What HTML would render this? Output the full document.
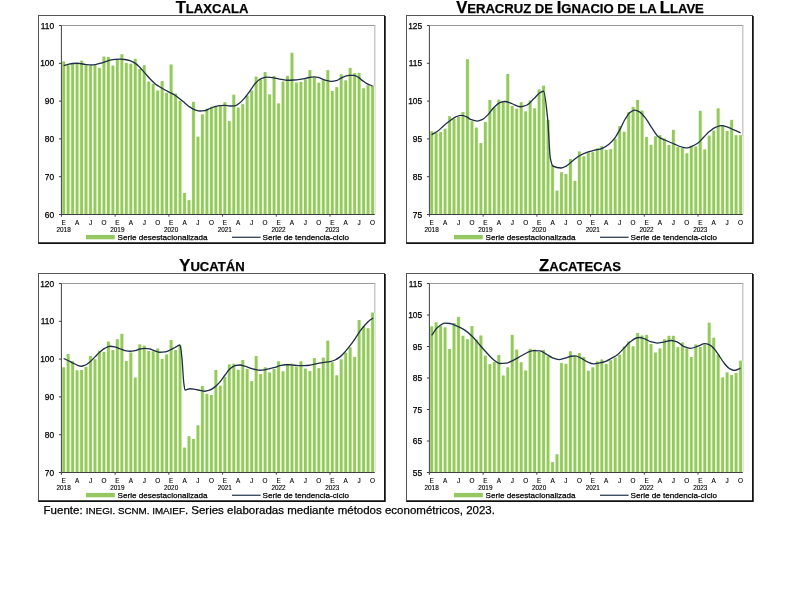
<!DOCTYPE html>
<html><head><meta charset="utf-8"><title>Indicador</title>
<style>
html,body{margin:0;padding:0;background:#fff;}
body{width:800px;height:600px;overflow:hidden;}
svg{display:block;will-change:transform;}
text{font-family:"Liberation Sans", Arial, sans-serif;fill:#000;stroke:#000;stroke-width:0.25px;}
.t{fill:#000;}
.yl text{font-size:8.4px;}
.xl text{font-size:6.4px;stroke-width:0.12px;}
.lg{font-size:8.1px;}
.fu{font-size:11.5px;}
</style></head><body>
<svg width="800" height="600" viewBox="0 0 800 600">
<rect width="800" height="600" fill="#fff"/>
<text x="212" y="12.8" text-anchor="middle" font-weight="bold" class="t"><tspan font-size="16.6">T</tspan><tspan font-size="13.1">LAXCALA</tspan></text>
<rect x="38.5" y="15.5" width="346" height="228" fill="#fff" stroke="#555" stroke-width="1"/>
<path d="M384.9,16 V243.05 H38.5" fill="none" stroke="#111" stroke-width="1.7"/>
<path d="M61.4,25.5 H375.4" fill="none" stroke="#9a9a9a" stroke-width="1"/>
<path d="M374.8,25.5 V214.5" fill="none" stroke="#c4c4c4" stroke-width="1.3"/>
<g fill="#ECFCD6"><rect x="61.4" y="61.91" width="4.48" height="152.59"/><rect x="65.88" y="65.69" width="4.48" height="148.81"/><rect x="70.35" y="63.8" width="4.48" height="150.7"/><rect x="74.83" y="63.8" width="4.48" height="150.7"/><rect x="79.31" y="61.15" width="4.48" height="153.35"/><rect x="83.79" y="65.69" width="4.48" height="148.81"/><rect x="88.26" y="66.45" width="4.48" height="148.05"/><rect x="92.74" y="65.69" width="4.48" height="148.81"/><rect x="97.22" y="68.34" width="4.48" height="146.16"/><rect x="101.69" y="57" width="4.48" height="157.5"/><rect x="106.17" y="57.37" width="4.48" height="157.13"/><rect x="110.65" y="66.07" width="4.48" height="148.43"/><rect x="115.13" y="59.64" width="4.48" height="154.86"/><rect x="119.6" y="54.73" width="4.48" height="159.77"/><rect x="124.08" y="63.42" width="4.48" height="151.08"/><rect x="128.56" y="64.18" width="4.48" height="150.32"/><rect x="133.03" y="59.26" width="4.48" height="155.24"/><rect x="137.51" y="69.47" width="4.48" height="145.03"/><rect x="141.99" y="65.69" width="4.48" height="148.81"/><rect x="146.47" y="81.94" width="4.48" height="132.56"/><rect x="150.94" y="84.21" width="4.48" height="130.29"/><rect x="155.42" y="91.02" width="4.48" height="123.48"/><rect x="159.9" y="81.57" width="4.48" height="132.93"/><rect x="164.37" y="93.28" width="4.48" height="121.22"/><rect x="168.85" y="64.93" width="4.48" height="149.57"/><rect x="173.33" y="94.04" width="4.48" height="120.46"/><rect x="177.81" y="101.22" width="4.48" height="113.28"/><rect x="182.28" y="193.45" width="4.48" height="21.05"/><rect x="186.76" y="200.64" width="4.48" height="13.86"/><rect x="191.24" y="102.36" width="4.48" height="112.14"/><rect x="195.71" y="137.13" width="4.48" height="77.37"/><rect x="200.19" y="114.83" width="4.48" height="99.67"/><rect x="204.67" y="109.16" width="4.48" height="105.34"/><rect x="209.15" y="107.27" width="4.48" height="107.23"/><rect x="213.62" y="107.27" width="4.48" height="107.23"/><rect x="218.1" y="106.51" width="4.48" height="107.99"/><rect x="222.58" y="102.73" width="4.48" height="111.77"/><rect x="227.05" y="121.63" width="4.48" height="92.87"/><rect x="231.53" y="95.17" width="4.48" height="119.33"/><rect x="236.01" y="108.03" width="4.48" height="106.47"/><rect x="240.49" y="104.62" width="4.48" height="109.88"/><rect x="244.96" y="95.93" width="4.48" height="118.57"/><rect x="249.44" y="91.02" width="4.48" height="123.48"/><rect x="253.92" y="77.03" width="4.48" height="137.47"/><rect x="258.39" y="80.05" width="4.48" height="134.45"/><rect x="262.87" y="72.49" width="4.48" height="142.01"/><rect x="267.35" y="94.8" width="4.48" height="119.7"/><rect x="271.83" y="76.27" width="4.48" height="138.23"/><rect x="276.3" y="103.87" width="4.48" height="110.63"/><rect x="280.78" y="81.94" width="4.48" height="132.56"/><rect x="285.26" y="76.27" width="4.48" height="138.23"/><rect x="289.73" y="53.22" width="4.48" height="161.28"/><rect x="294.21" y="83.08" width="4.48" height="131.42"/><rect x="298.69" y="82.32" width="4.48" height="132.18"/><rect x="303.17" y="79.68" width="4.48" height="134.82"/><rect x="307.64" y="70.6" width="4.48" height="143.9"/><rect x="312.12" y="77.79" width="4.48" height="136.71"/><rect x="316.6" y="83.08" width="4.48" height="131.42"/><rect x="321.07" y="80.05" width="4.48" height="134.45"/><rect x="325.55" y="70.6" width="4.48" height="143.9"/><rect x="330.03" y="91.39" width="4.48" height="123.11"/><rect x="334.51" y="87.61" width="4.48" height="126.89"/><rect x="338.98" y="74.76" width="4.48" height="139.74"/><rect x="343.46" y="80.81" width="4.48" height="133.69"/><rect x="347.94" y="68.34" width="4.48" height="146.16"/><rect x="352.41" y="73.63" width="4.48" height="140.87"/><rect x="356.89" y="73.44" width="4.48" height="141.06"/><rect x="361.37" y="88.75" width="4.48" height="125.75"/><rect x="365.85" y="85.72" width="4.48" height="128.78"/><rect x="370.32" y="86.1" width="4.48" height="128.4"/></g>
<g fill="#95C862"><rect x="62.24" y="61.41" width="2.8" height="153.09"/><rect x="66.72" y="65.19" width="2.8" height="149.31"/><rect x="71.19" y="63.3" width="2.8" height="151.2"/><rect x="75.67" y="63.3" width="2.8" height="151.2"/><rect x="80.15" y="60.65" width="2.8" height="153.85"/><rect x="84.62" y="65.19" width="2.8" height="149.31"/><rect x="89.1" y="65.95" width="2.8" height="148.55"/><rect x="93.58" y="65.19" width="2.8" height="149.31"/><rect x="98.06" y="67.84" width="2.8" height="146.66"/><rect x="102.53" y="56.5" width="2.8" height="158"/><rect x="107.01" y="56.87" width="2.8" height="157.63"/><rect x="111.49" y="65.57" width="2.8" height="148.93"/><rect x="115.96" y="59.14" width="2.8" height="155.36"/><rect x="120.44" y="54.23" width="2.8" height="160.27"/><rect x="124.92" y="62.92" width="2.8" height="151.58"/><rect x="129.4" y="63.68" width="2.8" height="150.82"/><rect x="133.87" y="58.76" width="2.8" height="155.74"/><rect x="138.35" y="68.97" width="2.8" height="145.53"/><rect x="142.83" y="65.19" width="2.8" height="149.31"/><rect x="147.3" y="81.44" width="2.8" height="133.06"/><rect x="151.78" y="83.71" width="2.8" height="130.79"/><rect x="156.26" y="90.52" width="2.8" height="123.98"/><rect x="160.74" y="81.07" width="2.8" height="133.43"/><rect x="165.21" y="92.78" width="2.8" height="121.72"/><rect x="169.69" y="64.43" width="2.8" height="150.07"/><rect x="174.17" y="93.54" width="2.8" height="120.96"/><rect x="178.64" y="100.72" width="2.8" height="113.78"/><rect x="183.12" y="192.95" width="2.8" height="21.55"/><rect x="187.6" y="200.14" width="2.8" height="14.36"/><rect x="192.08" y="101.86" width="2.8" height="112.64"/><rect x="196.55" y="136.63" width="2.8" height="77.87"/><rect x="201.03" y="114.33" width="2.8" height="100.17"/><rect x="205.51" y="108.66" width="2.8" height="105.84"/><rect x="209.98" y="106.77" width="2.8" height="107.73"/><rect x="214.46" y="106.77" width="2.8" height="107.73"/><rect x="218.94" y="106.01" width="2.8" height="108.49"/><rect x="223.42" y="102.23" width="2.8" height="112.27"/><rect x="227.89" y="121.13" width="2.8" height="93.37"/><rect x="232.37" y="94.67" width="2.8" height="119.83"/><rect x="236.85" y="107.53" width="2.8" height="106.97"/><rect x="241.32" y="104.12" width="2.8" height="110.38"/><rect x="245.8" y="95.43" width="2.8" height="119.07"/><rect x="250.28" y="90.52" width="2.8" height="123.98"/><rect x="254.76" y="76.53" width="2.8" height="137.97"/><rect x="259.23" y="79.55" width="2.8" height="134.95"/><rect x="263.71" y="71.99" width="2.8" height="142.51"/><rect x="268.19" y="94.3" width="2.8" height="120.2"/><rect x="272.66" y="75.77" width="2.8" height="138.73"/><rect x="277.14" y="103.37" width="2.8" height="111.13"/><rect x="281.62" y="81.44" width="2.8" height="133.06"/><rect x="286.1" y="75.77" width="2.8" height="138.73"/><rect x="290.57" y="52.72" width="2.8" height="161.78"/><rect x="295.05" y="82.58" width="2.8" height="131.92"/><rect x="299.53" y="81.82" width="2.8" height="132.68"/><rect x="304" y="79.18" width="2.8" height="135.32"/><rect x="308.48" y="70.1" width="2.8" height="144.4"/><rect x="312.96" y="77.29" width="2.8" height="137.21"/><rect x="317.44" y="82.58" width="2.8" height="131.92"/><rect x="321.91" y="79.55" width="2.8" height="134.95"/><rect x="326.39" y="70.1" width="2.8" height="144.4"/><rect x="330.87" y="90.89" width="2.8" height="123.61"/><rect x="335.34" y="87.11" width="2.8" height="127.39"/><rect x="339.82" y="74.26" width="2.8" height="140.24"/><rect x="344.3" y="80.31" width="2.8" height="134.19"/><rect x="348.78" y="67.84" width="2.8" height="146.66"/><rect x="353.25" y="73.13" width="2.8" height="141.37"/><rect x="357.73" y="72.94" width="2.8" height="141.56"/><rect x="362.21" y="88.25" width="2.8" height="126.25"/><rect x="366.68" y="85.22" width="2.8" height="129.28"/><rect x="371.16" y="85.6" width="2.8" height="128.9"/></g>
<path d="M61.4,25.5 V214.5 H374.8" fill="none" stroke="#404040" stroke-width="1"/>
<path d="M58.9,214.5H61.4M58.9,176.7H61.4M58.9,138.9H61.4M58.9,101.1H61.4M58.9,63.3H61.4M58.9,25.5H61.4M61.4,214.5V216.7M115.13,214.5V216.7M168.85,214.5V216.7M222.58,214.5V216.7M276.3,214.5V216.7M330.03,214.5V216.7" stroke="#404040" stroke-width="1" fill="none"/>
<g class="yl"><text x="54.2" y="217.5" text-anchor="end">60</text><text x="54.2" y="179.7" text-anchor="end">70</text><text x="54.2" y="141.9" text-anchor="end">80</text><text x="54.2" y="104.1" text-anchor="end">90</text><text x="54.2" y="66.3" text-anchor="end">100</text><text x="54.2" y="28.5" text-anchor="end">110</text></g>
<g class="xl" text-anchor="middle"><text x="63.64" y="225.2">E</text><text x="77.07" y="225.2">A</text><text x="90.5" y="225.2">J</text><text x="103.93" y="225.2">O</text><text x="117.36" y="225.2">E</text><text x="130.8" y="225.2">A</text><text x="144.23" y="225.2">J</text><text x="157.66" y="225.2">O</text><text x="171.09" y="225.2">E</text><text x="184.52" y="225.2">A</text><text x="197.95" y="225.2">J</text><text x="211.38" y="225.2">O</text><text x="224.82" y="225.2">E</text><text x="238.25" y="225.2">A</text><text x="251.68" y="225.2">J</text><text x="265.11" y="225.2">O</text><text x="278.54" y="225.2">E</text><text x="291.97" y="225.2">A</text><text x="305.4" y="225.2">J</text><text x="318.84" y="225.2">O</text><text x="332.27" y="225.2">E</text><text x="345.7" y="225.2">A</text><text x="359.13" y="225.2">J</text><text x="372.56" y="225.2">O</text><text x="63.64" y="231.9">2018</text><text x="117.36" y="231.9">2019</text><text x="171.09" y="231.9">2020</text><text x="224.82" y="231.9">2021</text><text x="278.54" y="231.9">2022</text><text x="332.27" y="231.9">2023</text></g>
<path d="M63.64,65.57 C64.92,65.25 66.21,64.93 67.49,64.62 C69.16,64.23 70.83,63.61 72.5,63.49 C74.17,63.36 75.85,63.26 77.52,63.26 C78.76,63.26 80,63.57 81.23,63.75 C82.49,63.94 83.74,64.2 84.99,64.36 C87.08,64.62 89.17,65 91.26,65 C92.92,65 94.58,64.64 96.23,64.36 C97.49,64.15 98.74,63.82 99.99,63.49 C101.66,63.04 103.34,62.41 105.01,61.86 C106.68,61.32 108.35,60.62 110.02,60.24 C111.68,59.86 113.33,59.49 114.99,59.37 C116.66,59.25 118.33,59.14 120.01,59.14 C121.68,59.14 123.35,59.31 125.02,59.48 C126.68,59.66 128.33,60.1 129.99,60.62 C131.66,61.14 133.33,62.05 135,63.11 C136.68,64.17 138.35,65.85 140.02,67.5 C141.68,69.13 143.33,71.26 144.99,73.13 C146.66,75.01 148.33,77.02 150,78.76 C151.67,80.5 153.35,82.29 155.02,83.64 C156.67,84.97 158.33,85.99 159.99,87.04 C161.66,88.1 163.33,89.09 165,89.99 C166.67,90.89 168.34,91.6 170.02,92.48 C171.67,93.35 173.33,94.19 174.99,95.24 C176.66,96.31 178.33,97.67 180,98.98 C181.67,100.3 183.34,101.78 185.01,103.14 C186.67,104.49 188.33,106.06 189.98,107.11 C191.66,108.17 193.33,109.19 195,109.76 C196.67,110.32 198.34,111 200.01,111 C201.67,111 203.33,110.84 204.98,110.63 C206.65,110.41 208.32,109.17 210,108.51 C211.67,107.84 213.34,107.05 215.01,106.62 C216.67,106.19 218.32,105.77 219.98,105.64 C221.65,105.5 223.32,105.37 224.99,105.37 C226.67,105.37 228.34,106.01 230.01,106.01 C231.67,106.01 233.32,105.96 234.98,105.86 C236.65,105.77 238.32,104.06 239.99,102.76 C241.66,101.46 243.34,99.46 245.01,97.51 C246.68,95.56 248.35,93.2 250.02,90.89 C251.68,88.61 253.34,85.63 254.99,83.71 C256.28,82.22 257.56,80.77 258.84,79.93 C260.07,79.13 261.29,78.54 262.51,78.12 C263.75,77.69 264.99,77.13 266.23,77.13 C267.65,77.13 269.06,77.2 270.48,77.29 C271.99,77.38 273.5,77.83 275,78.12 C277.08,78.51 279.15,79.02 281.23,79.37 C283.32,79.71 285.41,80.23 287.5,80.23 C289.59,80.23 291.67,80.12 293.76,80.01 C295.84,79.9 297.91,79.65 299.99,79.37 C302.08,79.08 304.17,78.54 306.25,78.12 C307.91,77.78 309.57,77.29 311.22,77.1 C312.27,76.98 313.31,76.83 314.36,76.83 C315.82,76.83 317.28,77.21 318.75,77.55 C320.21,77.89 321.67,78.81 323.13,79.33 C324.6,79.84 326.06,80.38 327.52,80.69 C328.97,80.99 330.42,81.37 331.86,81.37 C333.33,81.37 334.79,80.99 336.25,80.61 C337.71,80.24 339.18,79.15 340.64,78.42 C342.09,77.7 343.53,76.69 344.98,76.27 C346.44,75.84 347.91,75.36 349.37,75.36 C350.83,75.36 352.29,75.36 353.76,75.36 C355.22,75.36 356.68,76.35 358.15,77.13 C359.59,77.91 361.04,79.53 362.49,80.61 C363.95,81.7 365.41,82.92 366.88,83.67 C368.77,84.66 370.67,85.21 372.56,85.98" fill="none" stroke="#1E2E48" stroke-width="1.3" stroke-linejoin="round"/>
<rect x="86" y="234.9" width="28.8" height="4.4" fill="#95C862"/>
<text x="117.6" y="239.6" class="lg">Serie desestacionalizada</text>
<path d="M232,237.3H260.6" stroke="#3F4D60" stroke-width="1.4"/>
<text x="262.6" y="239.6" class="lg">Serie de tendencia-ciclo</text>
<text x="580" y="12.8" text-anchor="middle" font-weight="bold" class="t"><tspan font-size="16.6">V</tspan><tspan font-size="13.1">ERACRUZ DE </tspan><tspan font-size="16.6">I</tspan><tspan font-size="13.1">GNACIO DE LA </tspan><tspan font-size="16.6">L</tspan><tspan font-size="13.1">LAVE</tspan></text>
<rect x="406.5" y="15.5" width="346" height="228" fill="#fff" stroke="#555" stroke-width="1"/>
<path d="M752.9,16 V243.05 H406.5" fill="none" stroke="#111" stroke-width="1.7"/>
<path d="M429.4,25.5 H743.4" fill="none" stroke="#9a9a9a" stroke-width="1"/>
<path d="M742.8,25.5 V214.5" fill="none" stroke="#c4c4c4" stroke-width="1.3"/>
<g fill="#ECFCD6"><rect x="429.4" y="131.84" width="4.48" height="82.66"/><rect x="433.88" y="132.97" width="4.48" height="81.53"/><rect x="438.35" y="132.41" width="4.48" height="82.09"/><rect x="442.83" y="129.19" width="4.48" height="85.31"/><rect x="447.31" y="116.72" width="4.48" height="97.78"/><rect x="451.79" y="119.37" width="4.48" height="95.13"/><rect x="456.26" y="117.48" width="4.48" height="97.02"/><rect x="460.74" y="112.56" width="4.48" height="101.94"/><rect x="465.22" y="59.64" width="4.48" height="154.86"/><rect x="469.69" y="121.63" width="4.48" height="92.87"/><rect x="474.17" y="128.06" width="4.48" height="86.44"/><rect x="478.65" y="143.56" width="4.48" height="70.94"/><rect x="483.13" y="122.39" width="4.48" height="92.11"/><rect x="487.6" y="100.47" width="4.48" height="114.03"/><rect x="492.08" y="108.03" width="4.48" height="106.47"/><rect x="496.56" y="100.09" width="4.48" height="114.41"/><rect x="501.03" y="102.73" width="4.48" height="111.77"/><rect x="505.51" y="74.38" width="4.48" height="140.12"/><rect x="509.99" y="106.51" width="4.48" height="107.99"/><rect x="514.47" y="109.16" width="4.48" height="105.34"/><rect x="518.94" y="102.73" width="4.48" height="111.77"/><rect x="523.42" y="111.81" width="4.48" height="102.69"/><rect x="527.9" y="100.84" width="4.48" height="113.66"/><rect x="532.37" y="108.78" width="4.48" height="105.72"/><rect x="536.85" y="89.88" width="4.48" height="124.62"/><rect x="541.33" y="86.1" width="4.48" height="128.4"/><rect x="545.81" y="120.5" width="4.48" height="94"/><rect x="550.28" y="165.48" width="4.48" height="49.02"/><rect x="554.76" y="191.19" width="4.48" height="23.31"/><rect x="559.24" y="172.66" width="4.48" height="41.84"/><rect x="563.71" y="174.55" width="4.48" height="39.95"/><rect x="568.19" y="159.43" width="4.48" height="55.07"/><rect x="572.67" y="181.36" width="4.48" height="33.14"/><rect x="577.15" y="151.87" width="4.48" height="62.63"/><rect x="581.62" y="156.79" width="4.48" height="57.71"/><rect x="586.1" y="153.01" width="4.48" height="61.49"/><rect x="590.58" y="152.63" width="4.48" height="61.87"/><rect x="595.05" y="148.85" width="4.48" height="65.65"/><rect x="599.53" y="146.58" width="4.48" height="67.92"/><rect x="604.01" y="150.36" width="4.48" height="64.14"/><rect x="608.49" y="149.61" width="4.48" height="64.89"/><rect x="612.96" y="139.21" width="4.48" height="75.29"/><rect x="617.44" y="126.55" width="4.48" height="87.95"/><rect x="621.92" y="132.22" width="4.48" height="82.28"/><rect x="626.39" y="112.56" width="4.48" height="101.94"/><rect x="630.87" y="107.27" width="4.48" height="107.23"/><rect x="635.35" y="100.47" width="4.48" height="114.03"/><rect x="639.83" y="111.05" width="4.48" height="103.45"/><rect x="644.3" y="137.51" width="4.48" height="76.99"/><rect x="648.78" y="145.26" width="4.48" height="69.24"/><rect x="653.26" y="136.75" width="4.48" height="77.75"/><rect x="657.73" y="135.62" width="4.48" height="78.88"/><rect x="662.21" y="139.02" width="4.48" height="75.48"/><rect x="666.69" y="145.45" width="4.48" height="69.05"/><rect x="671.17" y="130.33" width="4.48" height="84.17"/><rect x="675.64" y="147.34" width="4.48" height="67.16"/><rect x="680.12" y="148.47" width="4.48" height="66.03"/><rect x="684.6" y="153.76" width="4.48" height="60.74"/><rect x="689.07" y="146.2" width="4.48" height="68.3"/><rect x="693.55" y="146.96" width="4.48" height="67.54"/><rect x="698.03" y="111.24" width="4.48" height="103.26"/><rect x="702.51" y="149.8" width="4.48" height="64.7"/><rect x="706.98" y="136" width="4.48" height="78.5"/><rect x="711.46" y="131.08" width="4.48" height="83.42"/><rect x="715.94" y="108.78" width="4.48" height="105.72"/><rect x="720.41" y="126.17" width="4.48" height="88.33"/><rect x="724.89" y="131.46" width="4.48" height="83.04"/><rect x="729.37" y="120.31" width="4.48" height="94.19"/><rect x="733.85" y="135.62" width="4.48" height="78.88"/><rect x="738.32" y="135.62" width="4.48" height="78.88"/></g>
<g fill="#95C862"><rect x="430.24" y="131.34" width="2.8" height="83.16"/><rect x="434.72" y="132.47" width="2.8" height="82.03"/><rect x="439.19" y="131.91" width="2.8" height="82.59"/><rect x="443.67" y="128.69" width="2.8" height="85.81"/><rect x="448.15" y="116.22" width="2.8" height="98.28"/><rect x="452.62" y="118.87" width="2.8" height="95.63"/><rect x="457.1" y="116.98" width="2.8" height="97.52"/><rect x="461.58" y="112.06" width="2.8" height="102.44"/><rect x="466.06" y="59.14" width="2.8" height="155.36"/><rect x="470.53" y="121.13" width="2.8" height="93.37"/><rect x="475.01" y="127.56" width="2.8" height="86.94"/><rect x="479.49" y="143.06" width="2.8" height="71.44"/><rect x="483.96" y="121.89" width="2.8" height="92.61"/><rect x="488.44" y="99.97" width="2.8" height="114.53"/><rect x="492.92" y="107.53" width="2.8" height="106.97"/><rect x="497.4" y="99.59" width="2.8" height="114.91"/><rect x="501.87" y="102.23" width="2.8" height="112.27"/><rect x="506.35" y="73.88" width="2.8" height="140.62"/><rect x="510.83" y="106.01" width="2.8" height="108.49"/><rect x="515.3" y="108.66" width="2.8" height="105.84"/><rect x="519.78" y="102.23" width="2.8" height="112.27"/><rect x="524.26" y="111.31" width="2.8" height="103.19"/><rect x="528.74" y="100.34" width="2.8" height="114.16"/><rect x="533.21" y="108.28" width="2.8" height="106.22"/><rect x="537.69" y="89.38" width="2.8" height="125.12"/><rect x="542.17" y="85.6" width="2.8" height="128.9"/><rect x="546.64" y="120" width="2.8" height="94.5"/><rect x="551.12" y="164.98" width="2.8" height="49.52"/><rect x="555.6" y="190.69" width="2.8" height="23.81"/><rect x="560.08" y="172.16" width="2.8" height="42.34"/><rect x="564.55" y="174.05" width="2.8" height="40.45"/><rect x="569.03" y="158.93" width="2.8" height="55.57"/><rect x="573.51" y="180.86" width="2.8" height="33.64"/><rect x="577.98" y="151.37" width="2.8" height="63.13"/><rect x="582.46" y="156.29" width="2.8" height="58.21"/><rect x="586.94" y="152.51" width="2.8" height="61.99"/><rect x="591.42" y="152.13" width="2.8" height="62.37"/><rect x="595.89" y="148.35" width="2.8" height="66.15"/><rect x="600.37" y="146.08" width="2.8" height="68.42"/><rect x="604.85" y="149.86" width="2.8" height="64.64"/><rect x="609.32" y="149.11" width="2.8" height="65.39"/><rect x="613.8" y="138.71" width="2.8" height="75.79"/><rect x="618.28" y="126.05" width="2.8" height="88.45"/><rect x="622.76" y="131.72" width="2.8" height="82.78"/><rect x="627.23" y="112.06" width="2.8" height="102.44"/><rect x="631.71" y="106.77" width="2.8" height="107.73"/><rect x="636.19" y="99.97" width="2.8" height="114.53"/><rect x="640.66" y="110.55" width="2.8" height="103.95"/><rect x="645.14" y="137.01" width="2.8" height="77.49"/><rect x="649.62" y="144.76" width="2.8" height="69.74"/><rect x="654.1" y="136.25" width="2.8" height="78.25"/><rect x="658.57" y="135.12" width="2.8" height="79.38"/><rect x="663.05" y="138.52" width="2.8" height="75.98"/><rect x="667.53" y="144.95" width="2.8" height="69.55"/><rect x="672" y="129.83" width="2.8" height="84.67"/><rect x="676.48" y="146.84" width="2.8" height="67.66"/><rect x="680.96" y="147.97" width="2.8" height="66.53"/><rect x="685.44" y="153.26" width="2.8" height="61.24"/><rect x="689.91" y="145.7" width="2.8" height="68.8"/><rect x="694.39" y="146.46" width="2.8" height="68.04"/><rect x="698.87" y="110.74" width="2.8" height="103.76"/><rect x="703.34" y="149.3" width="2.8" height="65.2"/><rect x="707.82" y="135.5" width="2.8" height="79"/><rect x="712.3" y="130.58" width="2.8" height="83.92"/><rect x="716.78" y="108.28" width="2.8" height="106.22"/><rect x="721.25" y="125.67" width="2.8" height="88.83"/><rect x="725.73" y="130.96" width="2.8" height="83.54"/><rect x="730.21" y="119.81" width="2.8" height="94.69"/><rect x="734.68" y="135.12" width="2.8" height="79.38"/><rect x="739.16" y="135.12" width="2.8" height="79.38"/></g>
<path d="M429.4,25.5 V214.5 H742.8" fill="none" stroke="#404040" stroke-width="1"/>
<path d="M426.9,214.5H429.4M426.9,176.7H429.4M426.9,138.9H429.4M426.9,101.1H429.4M426.9,63.3H429.4M426.9,25.5H429.4M429.4,214.5V216.7M483.13,214.5V216.7M536.85,214.5V216.7M590.58,214.5V216.7M644.3,214.5V216.7M698.03,214.5V216.7" stroke="#404040" stroke-width="1" fill="none"/>
<g class="yl"><text x="422.2" y="217.5" text-anchor="end">75</text><text x="422.2" y="179.7" text-anchor="end">85</text><text x="422.2" y="141.9" text-anchor="end">95</text><text x="422.2" y="104.1" text-anchor="end">105</text><text x="422.2" y="66.3" text-anchor="end">115</text><text x="422.2" y="28.5" text-anchor="end">125</text></g>
<g class="xl" text-anchor="middle"><text x="431.64" y="225.2">E</text><text x="445.07" y="225.2">A</text><text x="458.5" y="225.2">J</text><text x="471.93" y="225.2">O</text><text x="485.36" y="225.2">E</text><text x="498.8" y="225.2">A</text><text x="512.23" y="225.2">J</text><text x="525.66" y="225.2">O</text><text x="539.09" y="225.2">E</text><text x="552.52" y="225.2">A</text><text x="565.95" y="225.2">J</text><text x="579.38" y="225.2">O</text><text x="592.82" y="225.2">E</text><text x="606.25" y="225.2">A</text><text x="619.68" y="225.2">J</text><text x="633.11" y="225.2">O</text><text x="646.54" y="225.2">E</text><text x="659.97" y="225.2">A</text><text x="673.4" y="225.2">J</text><text x="686.84" y="225.2">O</text><text x="700.27" y="225.2">E</text><text x="713.7" y="225.2">A</text><text x="727.13" y="225.2">J</text><text x="740.56" y="225.2">O</text><text x="431.64" y="231.9">2018</text><text x="485.36" y="231.9">2019</text><text x="539.09" y="231.9">2020</text><text x="592.82" y="231.9">2021</text><text x="646.54" y="231.9">2022</text><text x="700.27" y="231.9">2023</text></g>
<path d="M431.64,134.74 C433.58,133.61 435.52,132.71 437.46,131.34 C439.55,129.86 441.64,127.42 443.73,125.67 C445.82,123.91 447.91,122.26 449.99,120.76 C452.08,119.25 454.17,117.3 456.26,116.6 C457.9,116.05 459.55,115.46 461.19,115.46 C462.83,115.46 464.47,116.05 466.11,116.6 C467.75,117.15 469.4,119.04 471.04,119.62 C473.13,120.36 475.22,121.13 477.31,121.13 C478.95,121.13 480.59,120.36 482.23,119.62 C484.02,118.82 485.81,116.86 487.6,115.09 C489.69,113.02 491.78,109.55 493.87,107.53 C495.89,105.57 497.9,103.3 499.91,102.61 C501.63,102.03 503.35,101.48 505.06,101.48 C507.45,101.48 509.84,102.93 512.23,103.75 C514.91,104.67 517.6,106.77 520.29,106.77 C522.38,106.77 524.46,106.04 526.55,105.26 C528.94,104.36 531.33,101.05 533.72,98.83 C535.81,96.89 537.9,93.97 539.99,92.78 C541.18,92.11 542.37,91.27 543.57,91.27 C544.91,91.27 546.25,105.46 547.6,118.11 C548.49,126.54 549.39,153.22 550.28,157.8 C551.18,162.38 552.07,165.66 552.97,166.12 C555.66,167.48 558.34,168.01 561.03,168.01 C562.74,168.01 564.46,166.98 566.18,166.12 C568.19,165.11 570.21,162.77 572.22,161.2 C574.76,159.23 577.29,156.95 579.83,155.53 C582.37,154.11 584.91,152.94 587.44,152.13 C589.98,151.32 592.52,150.89 595.05,150.24 C597.44,149.63 599.83,149.24 602.22,148.35 C604.46,147.52 606.69,145.94 608.93,144.19 C610.87,142.68 612.81,140.65 614.75,138.14 C616.54,135.83 618.34,132.35 620.13,129.07 C621.77,126.07 623.41,121.92 625.05,119.24 C626.69,116.56 628.33,113.57 629.98,112.44 C631.62,111.31 633.26,110.17 634.9,110.17 C636.54,110.17 638.18,111.15 639.83,112.06 C641.92,113.22 644,116.19 646.09,118.87 C648.18,121.55 650.27,125.69 652.36,128.69 C654.45,131.7 656.54,135.53 658.63,137.01 C660.72,138.49 662.81,139.09 664.9,140.03 C667.88,141.38 670.87,142.59 673.85,143.81 C676.69,144.98 679.52,146.61 682.36,147.22 C684,147.57 685.64,147.97 687.28,147.97 C688.78,147.97 690.27,147.07 691.76,146.46 C693.85,145.6 695.94,144.55 698.03,143.06 C699.97,141.67 701.91,138.96 703.85,137.01 C705.79,135.06 707.73,132.87 709.67,131.34 C711.76,129.69 713.85,127.96 715.94,127.18 C717.88,126.46 719.82,125.67 721.76,125.67 C723.7,125.67 725.64,126.56 727.58,127.18 C729.67,127.85 731.76,128.92 733.85,129.83 C736.08,130.8 738.32,131.84 740.56,132.85" fill="none" stroke="#1E2E48" stroke-width="1.3" stroke-linejoin="round"/>
<rect x="454" y="234.9" width="28.8" height="4.4" fill="#95C862"/>
<text x="485.6" y="239.6" class="lg">Serie desestacionalizada</text>
<path d="M600,237.3H628.6" stroke="#3F4D60" stroke-width="1.4"/>
<text x="630.6" y="239.6" class="lg">Serie de tendencia-ciclo</text>
<text x="212" y="270.8" text-anchor="middle" font-weight="bold" class="t"><tspan font-size="16.6">Y</tspan><tspan font-size="13.1">UCATÁN</tspan></text>
<rect x="38.5" y="273.5" width="346" height="228" fill="#fff" stroke="#555" stroke-width="1"/>
<path d="M384.9,274 V501.05 H38.5" fill="none" stroke="#111" stroke-width="1.7"/>
<path d="M61.4,283.5 H375.4" fill="none" stroke="#9a9a9a" stroke-width="1"/>
<path d="M374.8,283.5 V472.5" fill="none" stroke="#c4c4c4" stroke-width="1.3"/>
<g fill="#ECFCD6"><rect x="61.4" y="367.76" width="4.48" height="104.74"/><rect x="65.88" y="354.5" width="4.48" height="118"/><rect x="70.35" y="361.75" width="4.48" height="110.75"/><rect x="74.83" y="370.75" width="4.48" height="101.75"/><rect x="79.31" y="370.49" width="4.48" height="102.01"/><rect x="83.79" y="367.39" width="4.48" height="105.11"/><rect x="88.26" y="356.39" width="4.48" height="116.11"/><rect x="92.74" y="359.64" width="4.48" height="112.86"/><rect x="97.22" y="351.13" width="4.48" height="121.37"/><rect x="101.69" y="352.38" width="4.48" height="120.12"/><rect x="106.17" y="341.99" width="4.48" height="130.51"/><rect x="110.65" y="350.49" width="4.48" height="122.01"/><rect x="115.13" y="339.64" width="4.48" height="132.86"/><rect x="119.6" y="334.24" width="4.48" height="138.26"/><rect x="124.08" y="361.49" width="4.48" height="111.01"/><rect x="128.56" y="352.99" width="4.48" height="119.51"/><rect x="133.03" y="378.01" width="4.48" height="94.49"/><rect x="137.51" y="344.86" width="4.48" height="127.64"/><rect x="141.99" y="346.14" width="4.48" height="126.36"/><rect x="146.47" y="351.51" width="4.48" height="120.99"/><rect x="150.94" y="351.74" width="4.48" height="120.76"/><rect x="155.42" y="349.02" width="4.48" height="123.48"/><rect x="159.9" y="359.49" width="4.48" height="113.01"/><rect x="164.37" y="354.88" width="4.48" height="117.62"/><rect x="168.85" y="340.51" width="4.48" height="131.99"/><rect x="173.33" y="350.49" width="4.48" height="122.01"/><rect x="177.81" y="345.88" width="4.48" height="126.62"/><rect x="182.28" y="448.05" width="4.48" height="24.45"/><rect x="186.76" y="436.71" width="4.48" height="35.79"/><rect x="191.24" y="439.36" width="4.48" height="33.14"/><rect x="195.71" y="425.75" width="4.48" height="46.75"/><rect x="200.19" y="386.51" width="4.48" height="85.99"/><rect x="204.67" y="394.26" width="4.48" height="78.24"/><rect x="209.15" y="395.51" width="4.48" height="76.99"/><rect x="213.62" y="370.49" width="4.48" height="102.01"/><rect x="218.1" y="386.14" width="4.48" height="86.36"/><rect x="222.58" y="377.37" width="4.48" height="95.13"/><rect x="227.05" y="364.89" width="4.48" height="107.61"/><rect x="231.53" y="364.25" width="4.48" height="108.25"/><rect x="236.01" y="370.26" width="4.48" height="102.24"/><rect x="240.49" y="360.51" width="4.48" height="111.99"/><rect x="244.96" y="369.5" width="4.48" height="103"/><rect x="249.44" y="381.6" width="4.48" height="90.9"/><rect x="253.92" y="356.5" width="4.48" height="116"/><rect x="258.39" y="374.49" width="4.48" height="98.01"/><rect x="262.87" y="367.76" width="4.48" height="104.74"/><rect x="267.35" y="372.98" width="4.48" height="99.52"/><rect x="271.83" y="369.5" width="4.48" height="103"/><rect x="276.3" y="361.75" width="4.48" height="110.75"/><rect x="280.78" y="371.73" width="4.48" height="100.77"/><rect x="285.26" y="364.25" width="4.48" height="108.25"/><rect x="289.73" y="364.25" width="4.48" height="108.25"/><rect x="294.21" y="367.01" width="4.48" height="105.49"/><rect x="298.69" y="361.75" width="4.48" height="110.75"/><rect x="303.17" y="369.01" width="4.48" height="103.49"/><rect x="307.64" y="371.51" width="4.48" height="100.99"/><rect x="312.12" y="358.62" width="4.48" height="113.88"/><rect x="316.6" y="368.63" width="4.48" height="103.87"/><rect x="321.07" y="358.09" width="4.48" height="114.41"/><rect x="325.55" y="341.12" width="4.48" height="131.38"/><rect x="330.03" y="362.62" width="4.48" height="109.88"/><rect x="334.51" y="375.74" width="4.48" height="96.76"/><rect x="338.98" y="359.86" width="4.48" height="112.64"/><rect x="343.46" y="353.17" width="4.48" height="119.33"/><rect x="347.94" y="347.77" width="4.48" height="124.73"/><rect x="352.41" y="357.37" width="4.48" height="115.13"/><rect x="356.89" y="320.51" width="4.48" height="151.99"/><rect x="361.37" y="326.75" width="4.48" height="145.75"/><rect x="365.85" y="328.64" width="4.48" height="143.86"/><rect x="370.32" y="312.99" width="4.48" height="159.51"/></g>
<g fill="#95C862"><rect x="62.24" y="367.26" width="2.8" height="105.24"/><rect x="66.72" y="354" width="2.8" height="118.5"/><rect x="71.19" y="361.25" width="2.8" height="111.25"/><rect x="75.67" y="370.25" width="2.8" height="102.25"/><rect x="80.15" y="369.99" width="2.8" height="102.51"/><rect x="84.62" y="366.89" width="2.8" height="105.61"/><rect x="89.1" y="355.89" width="2.8" height="116.61"/><rect x="93.58" y="359.14" width="2.8" height="113.36"/><rect x="98.06" y="350.63" width="2.8" height="121.87"/><rect x="102.53" y="351.88" width="2.8" height="120.62"/><rect x="107.01" y="341.49" width="2.8" height="131.01"/><rect x="111.49" y="349.99" width="2.8" height="122.51"/><rect x="115.96" y="339.14" width="2.8" height="133.36"/><rect x="120.44" y="333.74" width="2.8" height="138.76"/><rect x="124.92" y="360.99" width="2.8" height="111.51"/><rect x="129.4" y="352.49" width="2.8" height="120.01"/><rect x="133.87" y="377.51" width="2.8" height="94.99"/><rect x="138.35" y="344.36" width="2.8" height="128.14"/><rect x="142.83" y="345.64" width="2.8" height="126.86"/><rect x="147.3" y="351.01" width="2.8" height="121.49"/><rect x="151.78" y="351.24" width="2.8" height="121.26"/><rect x="156.26" y="348.52" width="2.8" height="123.98"/><rect x="160.74" y="358.99" width="2.8" height="113.51"/><rect x="165.21" y="354.38" width="2.8" height="118.12"/><rect x="169.69" y="340.01" width="2.8" height="132.49"/><rect x="174.17" y="349.99" width="2.8" height="122.51"/><rect x="178.64" y="345.38" width="2.8" height="127.12"/><rect x="183.12" y="447.55" width="2.8" height="24.95"/><rect x="187.6" y="436.21" width="2.8" height="36.29"/><rect x="192.08" y="438.86" width="2.8" height="33.64"/><rect x="196.55" y="425.25" width="2.8" height="47.25"/><rect x="201.03" y="386.01" width="2.8" height="86.49"/><rect x="205.51" y="393.76" width="2.8" height="78.74"/><rect x="209.98" y="395.01" width="2.8" height="77.49"/><rect x="214.46" y="369.99" width="2.8" height="102.51"/><rect x="218.94" y="385.64" width="2.8" height="86.86"/><rect x="223.42" y="376.87" width="2.8" height="95.63"/><rect x="227.89" y="364.39" width="2.8" height="108.11"/><rect x="232.37" y="363.75" width="2.8" height="108.75"/><rect x="236.85" y="369.76" width="2.8" height="102.74"/><rect x="241.32" y="360.01" width="2.8" height="112.49"/><rect x="245.8" y="369" width="2.8" height="103.5"/><rect x="250.28" y="381.1" width="2.8" height="91.4"/><rect x="254.76" y="356" width="2.8" height="116.5"/><rect x="259.23" y="373.99" width="2.8" height="98.51"/><rect x="263.71" y="367.26" width="2.8" height="105.24"/><rect x="268.19" y="372.48" width="2.8" height="100.02"/><rect x="272.66" y="369" width="2.8" height="103.5"/><rect x="277.14" y="361.25" width="2.8" height="111.25"/><rect x="281.62" y="371.23" width="2.8" height="101.27"/><rect x="286.1" y="363.75" width="2.8" height="108.75"/><rect x="290.57" y="363.75" width="2.8" height="108.75"/><rect x="295.05" y="366.51" width="2.8" height="105.99"/><rect x="299.53" y="361.25" width="2.8" height="111.25"/><rect x="304" y="368.51" width="2.8" height="103.99"/><rect x="308.48" y="371.01" width="2.8" height="101.49"/><rect x="312.96" y="358.12" width="2.8" height="114.38"/><rect x="317.44" y="368.13" width="2.8" height="104.37"/><rect x="321.91" y="357.59" width="2.8" height="114.91"/><rect x="326.39" y="340.62" width="2.8" height="131.88"/><rect x="330.87" y="362.12" width="2.8" height="110.38"/><rect x="335.34" y="375.24" width="2.8" height="97.26"/><rect x="339.82" y="359.36" width="2.8" height="113.14"/><rect x="344.3" y="352.67" width="2.8" height="119.83"/><rect x="348.78" y="347.27" width="2.8" height="125.23"/><rect x="353.25" y="356.87" width="2.8" height="115.63"/><rect x="357.73" y="320.01" width="2.8" height="152.49"/><rect x="362.21" y="326.25" width="2.8" height="146.25"/><rect x="366.68" y="328.14" width="2.8" height="144.36"/><rect x="371.16" y="312.49" width="2.8" height="160.01"/></g>
<path d="M61.4,283.5 V472.5 H374.8" fill="none" stroke="#404040" stroke-width="1"/>
<path d="M58.9,472.5H61.4M58.9,434.7H61.4M58.9,396.9H61.4M58.9,359.1H61.4M58.9,321.3H61.4M58.9,283.5H61.4M61.4,472.5V474.7M115.13,472.5V474.7M168.85,472.5V474.7M222.58,472.5V474.7M276.3,472.5V474.7M330.03,472.5V474.7" stroke="#404040" stroke-width="1" fill="none"/>
<g class="yl"><text x="54.2" y="475.5" text-anchor="end">70</text><text x="54.2" y="437.7" text-anchor="end">80</text><text x="54.2" y="399.9" text-anchor="end">90</text><text x="54.2" y="362.1" text-anchor="end">100</text><text x="54.2" y="324.3" text-anchor="end">110</text><text x="54.2" y="286.5" text-anchor="end">120</text></g>
<g class="xl" text-anchor="middle"><text x="63.64" y="483.2">E</text><text x="77.07" y="483.2">A</text><text x="90.5" y="483.2">J</text><text x="103.93" y="483.2">O</text><text x="117.36" y="483.2">E</text><text x="130.8" y="483.2">A</text><text x="144.23" y="483.2">J</text><text x="157.66" y="483.2">O</text><text x="171.09" y="483.2">E</text><text x="184.52" y="483.2">A</text><text x="197.95" y="483.2">J</text><text x="211.38" y="483.2">O</text><text x="224.82" y="483.2">E</text><text x="238.25" y="483.2">A</text><text x="251.68" y="483.2">J</text><text x="265.11" y="483.2">O</text><text x="278.54" y="483.2">E</text><text x="291.97" y="483.2">A</text><text x="305.4" y="483.2">J</text><text x="318.84" y="483.2">O</text><text x="332.27" y="483.2">E</text><text x="345.7" y="483.2">A</text><text x="359.13" y="483.2">J</text><text x="372.56" y="483.2">O</text><text x="63.64" y="489.9">2018</text><text x="117.36" y="489.9">2019</text><text x="171.09" y="489.9">2020</text><text x="224.82" y="489.9">2021</text><text x="278.54" y="489.9">2022</text><text x="332.27" y="489.9">2023</text></g>
<path d="M63.64,358.5 C64.92,359.07 66.21,359.61 67.49,360.23 C69.16,361.04 70.83,362.04 72.5,362.88 C74.17,363.72 75.85,364.7 77.52,365.26 C78.76,365.68 80,366.24 81.23,366.24 C82.49,366.24 83.74,365.72 84.99,365.26 C86.67,364.64 88.34,363.21 90.01,361.86 C91.67,360.52 93.32,358.53 94.98,356.87 C96.65,355.2 98.32,353.31 99.99,351.88 C101.66,350.45 103.34,348.98 105.01,348.14 C106.68,347.3 108.35,346.25 110.02,346.25 C111.68,346.25 113.33,346.57 114.99,346.89 C116.66,347.21 118.33,348.12 120.01,348.74 C121.68,349.37 123.35,350.33 125.02,350.63 C126.68,350.94 128.33,351.24 129.99,351.24 C131.66,351.24 133.33,350.93 135,350.63 C136.68,350.34 138.35,349.32 140.02,349.01 C141.68,348.7 143.33,348.36 144.99,348.36 C146.66,348.36 148.33,348.69 150,349.01 C151.67,349.33 153.35,350.41 155.02,350.94 C156.67,351.46 158.33,352.26 159.99,352.26 C161.66,352.26 163.33,352.09 165,351.88 C166.67,351.67 168.34,350.71 170.02,349.99 C171.67,349.28 173.33,348.32 174.99,347.5 C176.66,346.66 178.33,345 180,345 C180.63,345 181.25,351.95 181.88,357.51 C182.51,363.07 183.13,377.46 183.76,382.5 C184.18,385.86 184.6,389.98 185.01,389.98 C186.67,389.98 188.33,388.74 189.98,388.74 C191.66,388.74 193.33,389.12 195,389.38 C196.67,389.64 198.34,390.04 200.01,390.36 C201.67,390.67 203.33,391.27 204.98,391.27 C206.65,391.27 208.32,390.59 210,389.98 C211.67,389.38 213.34,388.16 215.01,386.88 C216.67,385.61 218.32,383.81 219.98,381.89 C221.65,379.96 223.32,377.2 224.99,375.01 C226.67,372.83 228.34,370.13 230.01,368.74 C231.67,367.36 233.32,365.99 234.98,365.64 C236.65,365.28 238.32,365 239.99,365 C241.66,365 243.34,365.74 245.01,366.24 C246.68,366.75 248.35,367.6 250.02,368.13 C251.68,368.66 253.34,369.17 254.99,369.5 C256.66,369.82 258.33,370.25 260.01,370.25 C261.68,370.25 263.35,370 265.02,369.76 C266.68,369.53 268.33,368.93 269.99,368.51 C271.66,368.09 273.33,367.74 275,367.26 C276.68,366.79 278.35,366.03 280.02,365.64 C281.68,365.25 283.33,364.73 284.99,364.73 C286.66,364.73 288.33,364.73 290,364.73 C291.67,364.73 293.35,365.11 295.02,365.26 C296.67,365.41 298.33,365.64 299.99,365.64 C301.66,365.64 303.33,365.64 305,365.64 C306.67,365.64 308.34,365.37 310.02,365.15 C311.91,364.89 313.81,364.26 315.7,363.86 C317.49,363.49 319.28,363.09 321.07,362.8 C322.72,362.54 324.36,362.34 326,362.12 C327.33,361.95 328.66,361.87 329.98,361.63 C331.66,361.34 333.33,360.72 335,360.01 C336.67,359.29 338.34,358.16 340.01,356.87 C341.67,355.6 343.33,353.75 344.98,351.92 C346.65,350.07 348.33,347.87 350,345.68 C351.67,343.49 353.34,341.18 355.01,338.76 C356.67,336.37 358.32,333.5 359.98,331.24 C361.65,328.96 363.32,326.85 365,325 C366.67,323.16 368.34,321.25 370.01,320.01 C371.05,319.24 372.1,318.75 373.14,318.12" fill="none" stroke="#1E2E48" stroke-width="1.3" stroke-linejoin="round"/>
<rect x="86" y="492.9" width="28.8" height="4.4" fill="#95C862"/>
<text x="117.6" y="497.6" class="lg">Serie desestacionalizada</text>
<path d="M232,495.3H260.6" stroke="#3F4D60" stroke-width="1.4"/>
<text x="262.6" y="497.6" class="lg">Serie de tendencia-ciclo</text>
<text x="580" y="270.8" text-anchor="middle" font-weight="bold" class="t"><tspan font-size="16.6">Z</tspan><tspan font-size="13.1">ACATECAS</tspan></text>
<rect x="406.5" y="273.5" width="346" height="228" fill="#fff" stroke="#555" stroke-width="1"/>
<path d="M752.9,274 V501.05 H406.5" fill="none" stroke="#111" stroke-width="1.7"/>
<path d="M429.4,283.5 H743.4" fill="none" stroke="#9a9a9a" stroke-width="1"/>
<path d="M742.8,283.5 V472.5" fill="none" stroke="#c4c4c4" stroke-width="1.3"/>
<g fill="#ECFCD6"><rect x="429.4" y="326.84" width="4.48" height="145.66"/><rect x="433.88" y="322.75" width="4.48" height="149.75"/><rect x="438.35" y="326.21" width="4.48" height="146.29"/><rect x="442.83" y="327.79" width="4.48" height="144.71"/><rect x="447.31" y="349.52" width="4.48" height="122.98"/><rect x="451.79" y="323.38" width="4.48" height="149.12"/><rect x="456.26" y="317.39" width="4.48" height="155.11"/><rect x="460.74" y="336.29" width="4.48" height="136.21"/><rect x="465.22" y="339.75" width="4.48" height="132.75"/><rect x="469.69" y="326.52" width="4.48" height="145.98"/><rect x="474.17" y="340.07" width="4.48" height="132.43"/><rect x="478.65" y="335.98" width="4.48" height="136.52"/><rect x="483.13" y="356.13" width="4.48" height="116.37"/><rect x="487.6" y="364.64" width="4.48" height="107.86"/><rect x="492.08" y="362.44" width="4.48" height="110.06"/><rect x="496.56" y="355.5" width="4.48" height="117"/><rect x="501.03" y="375.98" width="4.48" height="96.52"/><rect x="505.51" y="367.79" width="4.48" height="104.71"/><rect x="509.99" y="335.34" width="4.48" height="137.16"/><rect x="514.47" y="349.99" width="4.48" height="122.51"/><rect x="518.94" y="362.75" width="4.48" height="109.75"/><rect x="523.42" y="370.94" width="4.48" height="101.56"/><rect x="527.9" y="349.36" width="4.48" height="123.14"/><rect x="532.37" y="349.99" width="4.48" height="122.51"/><rect x="536.85" y="352.51" width="4.48" height="119.99"/><rect x="541.33" y="350.46" width="4.48" height="122.04"/><rect x="545.81" y="356.76" width="4.48" height="115.74"/><rect x="550.28" y="462.61" width="4.48" height="9.89"/><rect x="554.76" y="454.73" width="4.48" height="17.77"/><rect x="559.24" y="363.38" width="4.48" height="109.12"/><rect x="563.71" y="364.32" width="4.48" height="108.18"/><rect x="568.19" y="351.73" width="4.48" height="120.77"/><rect x="572.67" y="356.13" width="4.48" height="116.37"/><rect x="577.15" y="353.62" width="4.48" height="118.88"/><rect x="581.62" y="357.39" width="4.48" height="115.11"/><rect x="586.1" y="371.25" width="4.48" height="101.25"/><rect x="590.58" y="367.79" width="4.48" height="104.71"/><rect x="595.05" y="361.81" width="4.48" height="110.69"/><rect x="599.53" y="359.91" width="4.48" height="112.59"/><rect x="604.01" y="364.32" width="4.48" height="108.18"/><rect x="608.49" y="360.7" width="4.48" height="111.8"/><rect x="612.96" y="358.02" width="4.48" height="114.48"/><rect x="617.44" y="355.19" width="4.48" height="117.31"/><rect x="621.92" y="347" width="4.48" height="125.5"/><rect x="626.39" y="341.96" width="4.48" height="130.54"/><rect x="630.87" y="346.69" width="4.48" height="125.81"/><rect x="635.35" y="333.46" width="4.48" height="139.04"/><rect x="639.83" y="335.98" width="4.48" height="136.52"/><rect x="644.3" y="335.34" width="4.48" height="137.16"/><rect x="648.78" y="344.48" width="4.48" height="128.02"/><rect x="653.26" y="352.99" width="4.48" height="119.51"/><rect x="657.73" y="348.89" width="4.48" height="123.61"/><rect x="662.21" y="339.75" width="4.48" height="132.75"/><rect x="666.69" y="336.29" width="4.48" height="136.21"/><rect x="671.17" y="336.29" width="4.48" height="136.21"/><rect x="675.64" y="347.63" width="4.48" height="124.87"/><rect x="680.12" y="342.91" width="4.48" height="129.59"/><rect x="684.6" y="348.89" width="4.48" height="123.61"/><rect x="689.07" y="357.55" width="4.48" height="114.95"/><rect x="693.55" y="344.95" width="4.48" height="127.55"/><rect x="698.03" y="347.63" width="4.48" height="124.87"/><rect x="702.51" y="345.11" width="4.48" height="127.39"/><rect x="706.98" y="323.06" width="4.48" height="149.44"/><rect x="711.46" y="338.18" width="4.48" height="134.32"/><rect x="715.94" y="355.19" width="4.48" height="117.31"/><rect x="720.41" y="377.87" width="4.48" height="94.63"/><rect x="724.89" y="372.83" width="4.48" height="99.67"/><rect x="729.37" y="375.51" width="4.48" height="96.99"/><rect x="733.85" y="373.46" width="4.48" height="99.04"/><rect x="738.32" y="361.18" width="4.48" height="111.32"/></g>
<g fill="#95C862"><rect x="430.24" y="326.34" width="2.8" height="146.16"/><rect x="434.72" y="322.25" width="2.8" height="150.25"/><rect x="439.19" y="325.71" width="2.8" height="146.79"/><rect x="443.67" y="327.29" width="2.8" height="145.21"/><rect x="448.15" y="349.02" width="2.8" height="123.48"/><rect x="452.62" y="322.88" width="2.8" height="149.62"/><rect x="457.1" y="316.89" width="2.8" height="155.61"/><rect x="461.58" y="335.79" width="2.8" height="136.71"/><rect x="466.06" y="339.25" width="2.8" height="133.25"/><rect x="470.53" y="326.02" width="2.8" height="146.48"/><rect x="475.01" y="339.57" width="2.8" height="132.93"/><rect x="479.49" y="335.48" width="2.8" height="137.02"/><rect x="483.96" y="355.63" width="2.8" height="116.87"/><rect x="488.44" y="364.14" width="2.8" height="108.36"/><rect x="492.92" y="361.94" width="2.8" height="110.56"/><rect x="497.4" y="355" width="2.8" height="117.5"/><rect x="501.87" y="375.48" width="2.8" height="97.02"/><rect x="506.35" y="367.29" width="2.8" height="105.21"/><rect x="510.83" y="334.84" width="2.8" height="137.66"/><rect x="515.3" y="349.49" width="2.8" height="123.01"/><rect x="519.78" y="362.25" width="2.8" height="110.25"/><rect x="524.26" y="370.44" width="2.8" height="102.06"/><rect x="528.74" y="348.86" width="2.8" height="123.64"/><rect x="533.21" y="349.49" width="2.8" height="123.01"/><rect x="537.69" y="352.01" width="2.8" height="120.49"/><rect x="542.17" y="349.96" width="2.8" height="122.54"/><rect x="546.64" y="356.26" width="2.8" height="116.24"/><rect x="551.12" y="462.11" width="2.8" height="10.39"/><rect x="555.6" y="454.23" width="2.8" height="18.27"/><rect x="560.08" y="362.88" width="2.8" height="109.62"/><rect x="564.55" y="363.82" width="2.8" height="108.68"/><rect x="569.03" y="351.23" width="2.8" height="121.27"/><rect x="573.51" y="355.63" width="2.8" height="116.87"/><rect x="577.98" y="353.12" width="2.8" height="119.38"/><rect x="582.46" y="356.89" width="2.8" height="115.61"/><rect x="586.94" y="370.75" width="2.8" height="101.75"/><rect x="591.42" y="367.29" width="2.8" height="105.21"/><rect x="595.89" y="361.31" width="2.8" height="111.19"/><rect x="600.37" y="359.41" width="2.8" height="113.09"/><rect x="604.85" y="363.82" width="2.8" height="108.68"/><rect x="609.32" y="360.2" width="2.8" height="112.3"/><rect x="613.8" y="357.52" width="2.8" height="114.98"/><rect x="618.28" y="354.69" width="2.8" height="117.81"/><rect x="622.76" y="346.5" width="2.8" height="126"/><rect x="627.23" y="341.46" width="2.8" height="131.04"/><rect x="631.71" y="346.19" width="2.8" height="126.31"/><rect x="636.19" y="332.96" width="2.8" height="139.54"/><rect x="640.66" y="335.48" width="2.8" height="137.02"/><rect x="645.14" y="334.84" width="2.8" height="137.66"/><rect x="649.62" y="343.98" width="2.8" height="128.52"/><rect x="654.1" y="352.49" width="2.8" height="120.01"/><rect x="658.57" y="348.39" width="2.8" height="124.11"/><rect x="663.05" y="339.25" width="2.8" height="133.25"/><rect x="667.53" y="335.79" width="2.8" height="136.71"/><rect x="672" y="335.79" width="2.8" height="136.71"/><rect x="676.48" y="347.13" width="2.8" height="125.37"/><rect x="680.96" y="342.41" width="2.8" height="130.09"/><rect x="685.44" y="348.39" width="2.8" height="124.11"/><rect x="689.91" y="357.05" width="2.8" height="115.45"/><rect x="694.39" y="344.45" width="2.8" height="128.05"/><rect x="698.87" y="347.13" width="2.8" height="125.37"/><rect x="703.34" y="344.61" width="2.8" height="127.89"/><rect x="707.82" y="322.56" width="2.8" height="149.94"/><rect x="712.3" y="337.68" width="2.8" height="134.82"/><rect x="716.78" y="354.69" width="2.8" height="117.81"/><rect x="721.25" y="377.37" width="2.8" height="95.13"/><rect x="725.73" y="372.33" width="2.8" height="100.17"/><rect x="730.21" y="375.01" width="2.8" height="97.49"/><rect x="734.68" y="372.96" width="2.8" height="99.54"/><rect x="739.16" y="360.68" width="2.8" height="111.82"/></g>
<path d="M429.4,283.5 V472.5 H742.8" fill="none" stroke="#404040" stroke-width="1"/>
<path d="M426.9,472.5H429.4M426.9,441H429.4M426.9,409.5H429.4M426.9,378H429.4M426.9,346.5H429.4M426.9,315H429.4M426.9,283.5H429.4M429.4,472.5V474.7M483.13,472.5V474.7M536.85,472.5V474.7M590.58,472.5V474.7M644.3,472.5V474.7M698.03,472.5V474.7" stroke="#404040" stroke-width="1" fill="none"/>
<g class="yl"><text x="422.2" y="475.5" text-anchor="end">55</text><text x="422.2" y="444" text-anchor="end">65</text><text x="422.2" y="412.5" text-anchor="end">75</text><text x="422.2" y="381" text-anchor="end">85</text><text x="422.2" y="349.5" text-anchor="end">95</text><text x="422.2" y="318" text-anchor="end">105</text><text x="422.2" y="286.5" text-anchor="end">115</text></g>
<g class="xl" text-anchor="middle"><text x="431.64" y="483.2">E</text><text x="445.07" y="483.2">A</text><text x="458.5" y="483.2">J</text><text x="471.93" y="483.2">O</text><text x="485.36" y="483.2">E</text><text x="498.8" y="483.2">A</text><text x="512.23" y="483.2">J</text><text x="525.66" y="483.2">O</text><text x="539.09" y="483.2">E</text><text x="552.52" y="483.2">A</text><text x="565.95" y="483.2">J</text><text x="579.38" y="483.2">O</text><text x="592.82" y="483.2">E</text><text x="606.25" y="483.2">A</text><text x="619.68" y="483.2">J</text><text x="633.11" y="483.2">O</text><text x="646.54" y="483.2">E</text><text x="659.97" y="483.2">A</text><text x="673.4" y="483.2">J</text><text x="686.84" y="483.2">O</text><text x="700.27" y="483.2">E</text><text x="713.7" y="483.2">A</text><text x="727.13" y="483.2">J</text><text x="740.56" y="483.2">O</text><text x="431.64" y="489.9">2018</text><text x="485.36" y="489.9">2019</text><text x="539.09" y="489.9">2020</text><text x="592.82" y="489.9">2021</text><text x="646.54" y="489.9">2022</text><text x="700.27" y="489.9">2023</text></g>
<path d="M431.64,335.48 C433.58,332.85 435.52,329.23 437.46,327.6 C439.94,325.52 442.41,323.19 444.89,323.19 C446.59,323.19 448.29,323.33 449.99,323.5 C452.53,323.76 455.07,325.23 457.61,326.34 C459.99,327.38 462.38,328.58 464.77,330.12 C467.31,331.75 469.84,333.97 472.38,336.42 C474.92,338.87 477.45,342.35 479.99,345.24 C482.53,348.13 485.07,351.06 487.6,353.75 C489.69,355.95 491.78,358.52 493.87,360.05 C495.89,361.51 497.9,363.51 499.91,363.51 C501.93,363.51 503.94,363.38 505.96,363.19 C508.5,362.97 511.03,361.24 513.57,360.05 C515.88,358.95 518.2,357.52 520.51,356.26 C522.82,355 525.14,353.38 527.45,352.49 C529.54,351.68 531.63,350.59 533.72,350.59 C535.81,350.59 537.9,350.72 539.99,350.91 C542.07,351.1 544.16,352.91 546.25,354.06 C548.34,355.21 550.43,357.05 552.52,357.84 C554.61,358.63 556.7,359.57 558.79,359.57 C560.88,359.57 562.97,358.69 565.06,358.15 C567.15,357.61 569.24,356.54 571.33,356.26 C572.52,356.11 573.71,355.95 574.91,355.95 C577,355.95 579.09,357.23 581.18,358.15 C583.26,359.08 585.35,361.1 587.44,361.94 C589.53,362.78 591.62,363.82 593.71,363.82 C595.8,363.82 597.89,363.29 599.98,362.88 C601.92,362.5 603.86,362 605.8,361.31 C607.74,360.61 609.68,359.25 611.62,358.15 C613.56,357.06 615.5,356.14 617.44,354.69 C619.53,353.13 621.62,350.49 623.71,348.39 C625.8,346.29 627.89,343.74 629.98,342.09 C632.07,340.44 634.15,338.43 636.24,338 C637.44,337.75 638.63,337.52 639.83,337.52 C641.47,337.52 643.11,338.37 644.75,338.94 C646.84,339.67 648.93,341.19 651.02,341.77 C653.11,342.36 655.2,343.04 657.29,343.04 C659.38,343.04 661.47,342.45 663.55,342.09 C666.09,341.65 668.63,340.51 671.17,340.51 C673.26,340.51 675.34,341.32 677.43,342.09 C679.52,342.86 681.61,345.66 683.7,346.5 C685.94,347.4 688.18,348.39 690.42,348.39 C692.95,348.39 695.49,347.02 698.03,346.19 C700.27,345.45 702.51,343.66 704.74,343.66 C706.39,343.66 708.03,344.27 709.67,344.93 C711.31,345.58 712.95,347.54 714.59,349.34 C716.24,351.13 717.88,353.9 719.52,356.26 C721.16,358.63 722.8,361.53 724.44,363.51 C726.09,365.49 727.73,367.63 729.37,368.55 C731.01,369.47 732.65,370.44 734.29,370.44 C736.08,370.44 737.88,369.18 739.67,368.55 C739.96,368.44 740.26,368.34 740.56,368.24" fill="none" stroke="#1E2E48" stroke-width="1.3" stroke-linejoin="round"/>
<rect x="454" y="492.9" width="28.8" height="4.4" fill="#95C862"/>
<text x="485.6" y="497.6" class="lg">Serie desestacionalizada</text>
<path d="M600,495.3H628.6" stroke="#3F4D60" stroke-width="1.4"/>
<text x="630.6" y="497.6" class="lg">Serie de tendencia-ciclo</text>
<text x="43.6" y="513.8" class="fu">Fuente: <tspan font-size="9.8">INEGI. SCNM. IMAIEF</tspan>. Series elaboradas mediante métodos econométricos, 2023.</text>
</svg>
</body></html>
